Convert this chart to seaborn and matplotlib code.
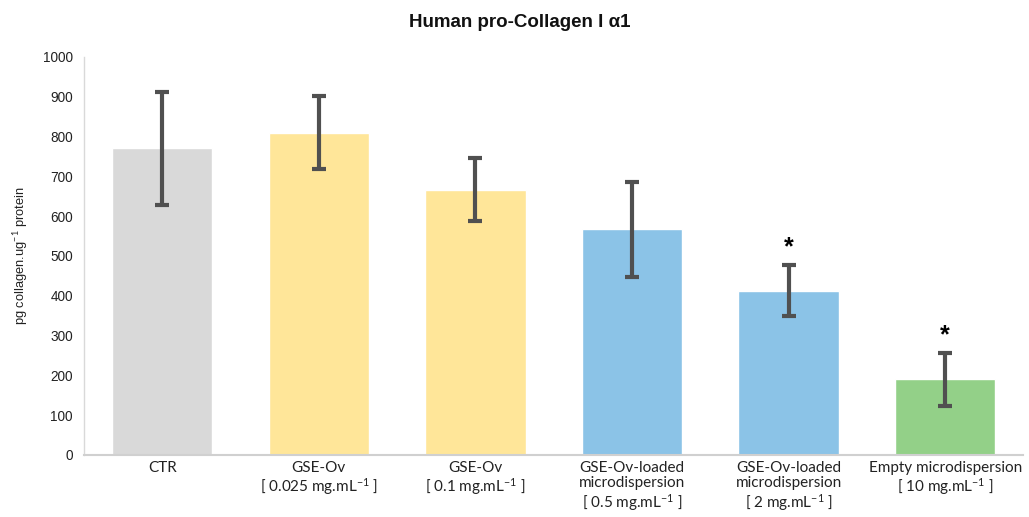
import matplotlib
matplotlib.use("Agg")
import matplotlib.pyplot as plt
import seaborn as sns
import pandas as pd

categories = [
    "CTR",
    "GSE-Ov\n[ 0.025 mg.mL$^{-1}$ ]",
    "GSE-Ov\n[ 0.1 mg.mL$^{-1}$ ]",
    "GSE-Ov-loaded\nmicrodispersion\n[ 0.5 mg.mL$^{-1}$ ]",
    "GSE-Ov-loaded\nmicrodispersion\n[ 2 mg.mL$^{-1}$ ]",
    "Empty microdispersion\n[ 10 mg.mL$^{-1}$ ]",
]
means = [770, 810, 666, 567, 413, 190]
errors = [143, 92, 79, 119, 65, 66]
significant = [False, False, False, False, True, True]
bar_colors = ["#d9d9d9", "#ffe699", "#ffe699", "#8bc3e7", "#8bc3e7", "#93d088"]

df = pd.DataFrame({"group": categories, "value": means})

sns.set_theme(style="white")
plt.rcParams["font.family"] = ["Liberation Sans", "DejaVu Sans"]
plt.rcParams["mathtext.fontset"] = "custom"
plt.rcParams["mathtext.rm"] = "Lato"
plt.rcParams["mathtext.it"] = "Lato:italic"
plt.rcParams["mathtext.bf"] = "Lato:bold"

fig = plt.figure(figsize=(10.29, 5.17), dpi=100)
ax = fig.add_axes([0.0816, 0.12, 0.913, 0.77])

sns.barplot(data=df, x="group", y="value", hue="group", palette=bar_colors,
            legend=False, errorbar=None, width=0.64, ax=ax, saturation=1)

xs = range(len(means))
ax.errorbar(xs, means, yerr=errors, fmt="none", ecolor="#505050",
            elinewidth=3, capsize=5, capthick=3)

# significance markers above the error bars
for x, m, e, s in zip(xs, means, errors, significant):
    if s:
        ax.text(x, m + e + 14, "*", ha="center", va="bottom",
                fontsize=18, fontweight="bold", color="black")

ax.set_ylim(0, 1000)
ax.set_xlim(-0.5, 5.5)
ax.set_yticks(range(0, 1001, 100))
ax.tick_params(axis="y", labelsize=9.8, length=0, pad=8, colors="#222222")
ax.tick_params(axis="x", length=0, pad=4)
for lbl in ax.get_xticklabels():
    lbl.set_fontfamily("Lato")
    lbl.set_fontsize(11)
    lbl.set_color("#222222")
    lbl.set_linespacing(1.12)

ax.set_xlabel("")
ax.set_ylabel("pg collagen.ug$^{-1}$ protein", fontsize=9.3, color="#222222",
              labelpad=9)

for side in ["top", "right"]:
    ax.spines[side].set_visible(False)
ax.spines["left"].set_color("#d9d9d9")
ax.spines["bottom"].set_color("#d0d0d0")
ax.spines["left"].set_linewidth(1)
ax.spines["bottom"].set_linewidth(1.5)

fig.suptitle("Human pro-Collagen I α1", x=0.505, y=0.972, fontsize=13.5,
             fontweight="bold", color="#111111")

fig.savefig("out.png", dpi=100)
